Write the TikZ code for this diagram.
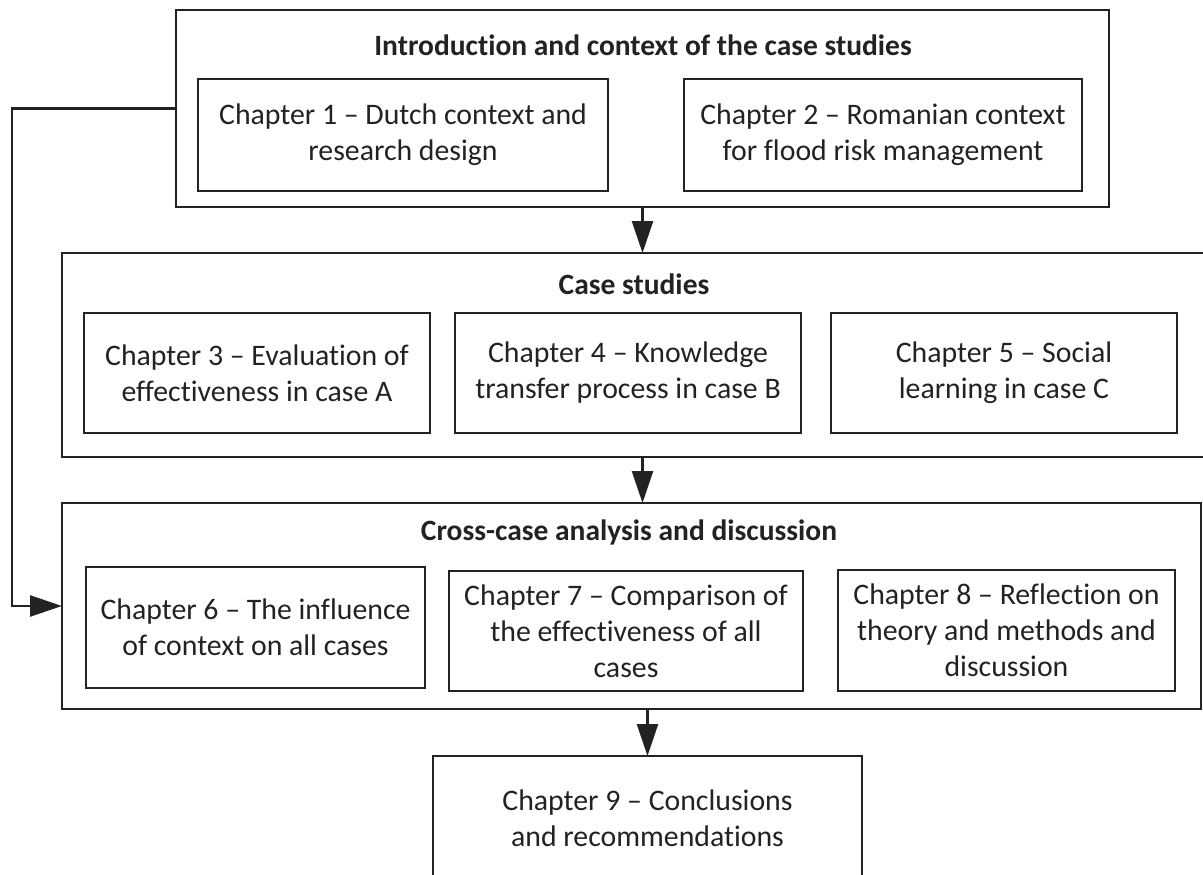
\documentclass[tikz,border=0pt]{standalone}
\usepackage{fontspec}
\setmainfont{Carlito}[Ligatures=NoCommon]
\usetikzlibrary{arrows.meta}
\definecolor{ink}{HTML}{222222}
\tikzset{
  frame/.style={draw=ink, line width=2.5pt, inner sep=0pt, outer sep=0pt,
    minimum width=#1},
  chapter/.style={frame=#1, align=center, text=ink,
    font=\fontsize{29.8}{36}\selectfont},
  heading/.style={text=ink, inner sep=0pt, font=\bfseries\fontsize{29.5}{34}\selectfont},
  flow/.style={draw=ink, line width=2.5pt,
    -{Triangle[length=32pt, width=21pt]}},
}
\begin{document}
\begin{tikzpicture}[x=1pt, y=-1pt]
\useasboundingbox (0,0) rectangle (1203,875);

% Part 1: introduction and context
\node[frame=933pt, minimum height=197pt] (intro) at (642.5,108.5) {};
\node[heading] (introtitle) at (643,45) {Introduction and context of the case studies};
\node[chapter=410pt, minimum height=112pt] (ch1) at (403,135)
  {Chapter 1 – Dutch context and\\research design};
\node[chapter=398pt, minimum height=112pt] (ch2) at (883,135)
  {Chapter 2 – Romanian context\\for flood risk management};

% Part 2: case studies (right edge runs off the page)
\node[frame=1142pt, minimum height=204pt] (cases) at (633,355) {};
\node[heading] (casestitle) at (634,284) {Case studies};
\node[chapter=346pt, minimum height=120pt] (ch3) at (257,373)
  {Chapter 3 – Evaluation of\\effectiveness in case A};
\node[chapter=346pt, minimum height=120pt] (ch4) at (628,373)
  {Chapter 4 – Knowledge\\transfer process in case B};
\node[chapter=346pt, minimum height=120pt] (ch5) at (1004,373)
  {Chapter 5 – Social\\learning in case C};

% Part 3: cross-case analysis
\node[frame=1139pt, minimum height=206pt] (cross) at (631.5,606) {};
\node[heading] (crosstitle) at (629,532) {Cross-case analysis and discussion};
\node[chapter=339pt, minimum height=121pt] (ch6) at (255.5,627.5)
  {Chapter 6 – The influence\\of context on all cases};
\node[chapter=354pt, minimum height=120pt] (ch7) at (626,631)
  {Chapter 7 – Comparison of\\the effectiveness of all\\cases};
\node[chapter=337pt, minimum height=121pt] (ch8) at (1006.5,630.5)
  {Chapter 8 – Reflection on\\theory and methods and\\discussion};

% Part 4: conclusions (bottom edge runs off the page)
\node[chapter=429pt, minimum height=124pt] (ch9) at (647.5,818)
  {Chapter 9 – Conclusions\\and recommendations};

% Connectors
\coordinate (loop) at (12,108.5);
\draw[flow] (intro.south) -- (intro.south |- cases.north);
\draw[flow] (intro.south |- cases.south) -- (intro.south |- cross.north);
\draw[flow] (ch9.north |- cross.south) -- (ch9.north);
\draw[flow] (intro.west) -- (loop) |- (cross.west);
\end{tikzpicture}
\end{document}
